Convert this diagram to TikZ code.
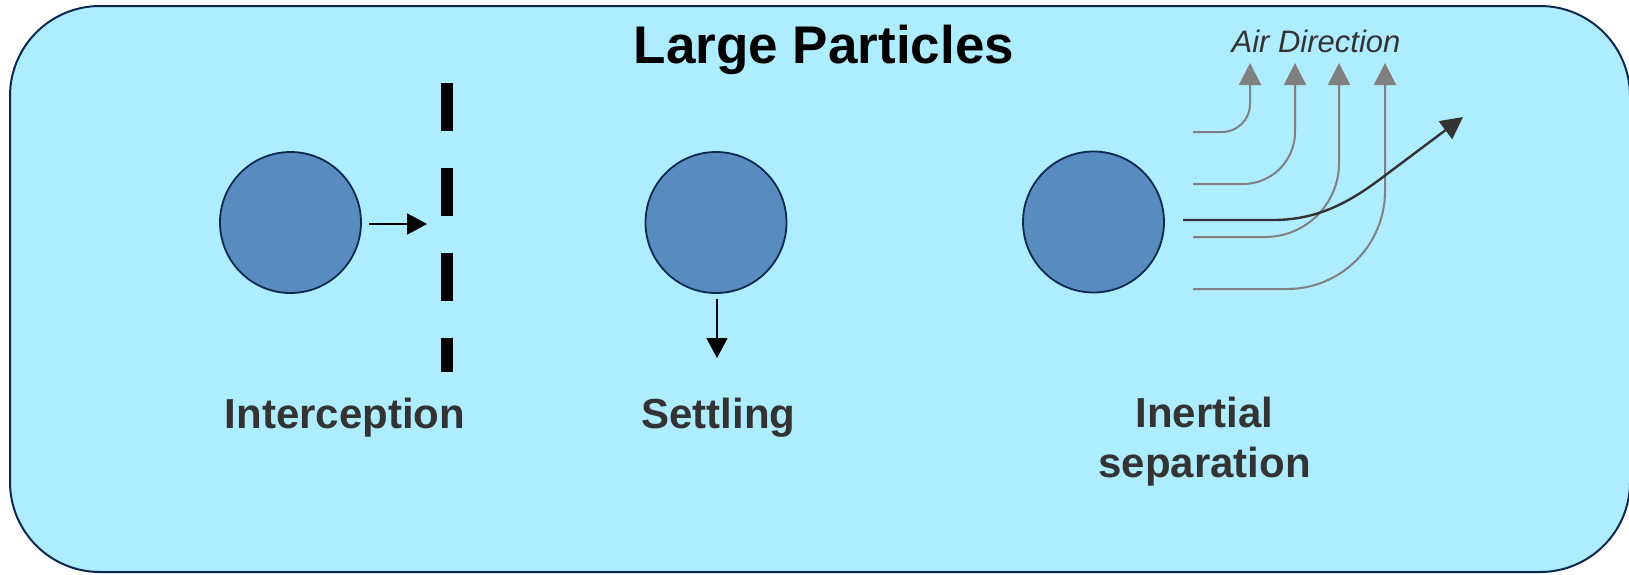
\documentclass[tikz,border=0pt]{standalone}
\usepackage{fontspec}
\setmainfont{Liberation Sans}
\usetikzlibrary{arrows.meta}
\definecolor{panelfill}{RGB}{174,236,255}
\definecolor{navy}{RGB}{12,40,80}
\definecolor{ballfill}{RGB}{88,139,190}
\definecolor{labelgray}{RGB}{51,51,51}
\definecolor{airgray}{RGB}{128,128,128}
\tikzset{
  panel/.style={draw=navy, line width=2pt, fill=panelfill, rounded corners=90pt},
  ball/.style={circle, draw=navy, line width=1.8pt, fill=ballfill, minimum size=141pt, inner sep=0pt},
  motion/.style={draw=black, line width=1.8pt, -{Triangle[length=20pt,width=21pt]}},
  airline/.style={draw=airgray, line width=2pt, -{Triangle[length=22pt,width=22pt]}},
  traj/.style={draw=labelgray, line width=2.4pt, -{Triangle[length=22pt,width=22pt]}},
  caption/.style={text=labelgray, font=\fontsize{42}{50}\selectfont\bfseries, anchor=base, inner sep=0pt, align=center},
  filterbar/.style={draw=black, line width=12pt, dash pattern=on 48pt off 37pt}
}
\begin{document}
\begin{tikzpicture}[x=1pt, y=-1pt]
\useasboundingbox (0,0) rectangle (1629,574);
\path[panel] (10,6) rectangle (1630,572);
% title
\node[anchor=base, inner sep=0pt, font=\fontsize{53}{58}\selectfont\bfseries] (title) at (824,63) {Large Particles};
\node[anchor=base, inner sep=0pt, text=labelgray, font=\fontsize{31}{34}\selectfont\itshape] (air) at (1316,52) {Air Direction};
% interception
\node[ball] (b1) at (290.5,222.5) {};
\coordinate (f1) at (446.5,83);
\coordinate (f2) at (446.5,372);
\draw[filterbar] (f1) -- (f2);
\coordinate (a1s) at (369,224);
\coordinate (a1e) at (427,224);
\draw[motion] (a1s) -- (a1e);
\node[caption] (l1) at (345,428) {Interception};
% settling
\node[ball] (b2) at (716,222.5) {};
\coordinate (a2s) at (717,299);
\coordinate (a2e) at (717,358);
\draw[motion] (a2s) -- (a2e);
\node[caption] (l2) at (718.5,428) {Settling};
% inertial separation
\node[ball] (b3) at (1093.5,222) {};
\coordinate (s1) at (1193,132);
\coordinate (t1) at (1250,63);
\coordinate (s2) at (1193,184);
\coordinate (t2) at (1295,63);
\coordinate (s3) at (1193,237);
\coordinate (t3) at (1339,63);
\coordinate (s4) at (1193,289);
\coordinate (t4) at (1385,63);
\draw[airline, rounded corners=28pt] (s1) -| (t1);
\draw[airline, rounded corners=52pt] (s2) -| (t2);
\draw[airline, rounded corners=74pt] (s3) -| (t3);
\draw[airline, rounded corners=98pt] (s4) -| (t4);
\coordinate (p0) at (1183,220);
\coordinate (p1) at (1273,220);
\coordinate (p2) at (1383,177);
\coordinate (p3) at (1463,117);
\draw[traj] (p0) -- (p1) .. controls (1318,220) and (1350,202) .. (p2) -- (p3);
\node[caption] (l3) at (1204.5,477) {Inertial\\[0pt]separation};
\end{tikzpicture}
\end{document}
